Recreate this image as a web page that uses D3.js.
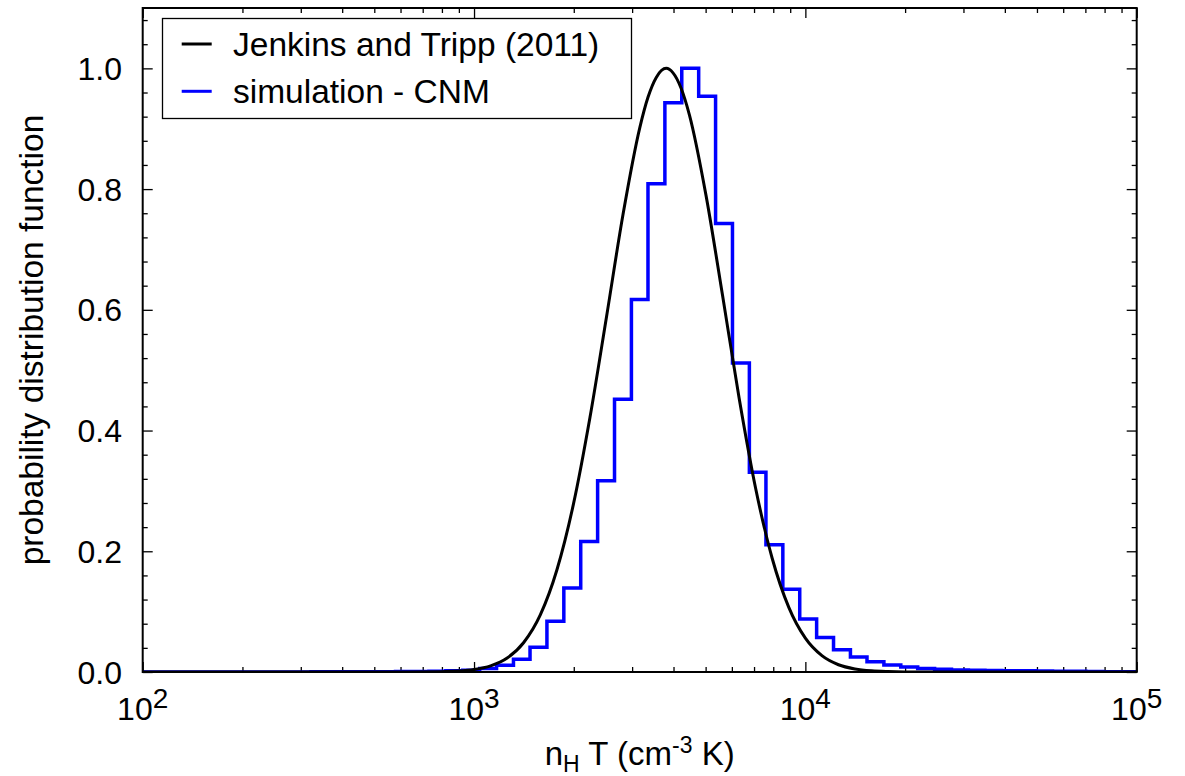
<!DOCTYPE html>
<html>
<head>
<meta charset="utf-8">
<script src="https://cdn.jsdelivr.net/npm/d3@7"></script>
<style>
  html, body { margin: 0; padding: 0; background: #fff; }
  svg { display: block; }
  text { font-family: "Liberation Sans", Arial, Helvetica, sans-serif; fill: #000; }
</style>
</head>
<body>
<svg id="chart" width="1185" height="776"></svg>
<script>
// ---------------- data ----------------
// x tick decades (10^n)
const xTickExponents = [2, 3, 4, 5];
const yTickValues = [0.0, 0.2, 0.4, 0.6, 0.8, 1.0];
const yTickLabels = ["0.0", "0.2", "0.4", "0.6", "0.8", "1.0"];

// Jenkins and Tripp (2011) curve: log10(nH T) and pdf
const jtLogP = [2.0, 2.7, 2.8, 2.9, 2.95, 3.0, 3.05, 3.1, 3.15, 3.2, 3.25, 3.3, 3.35, 3.4, 3.45, 3.5, 3.525, 3.55,
                3.58, 3.6, 3.625, 3.65, 3.7, 3.75, 3.8, 3.85, 3.9, 3.95, 4.0, 4.05, 4.1, 4.15, 4.2, 4.25, 4.3, 4.4, 5.0];
const jtPdf  = [0.0, 0.0, 0.00005, 0.0005, 0.0015, 0.0041, 0.0102, 0.0232, 0.0489, 0.0946, 0.169, 0.278, 0.422, 0.589, 0.759, 0.901, 0.952, 0.985,
                1.0, 0.993, 0.967, 0.923, 0.790, 0.624, 0.454, 0.304, 0.188, 0.107, 0.056, 0.027, 0.012, 0.005, 0.0019, 0.0007, 0.0002, 0.0, 0.0];

// simulation - CNM histogram: bin edges in log10(nH T) and bin heights
const simBinEdgesLog = [2.000, 2.051, 2.102, 2.153, 2.203, 2.254, 2.305, 2.356, 2.407, 2.458,
                        2.508, 2.559, 2.610, 2.661, 2.712, 2.763, 2.814, 2.864, 2.915, 2.966,
                        3.017, 3.068, 3.119, 3.169, 3.220, 3.271, 3.322, 3.373, 3.424, 3.475,
                        3.525, 3.576, 3.627, 3.678, 3.729, 3.780, 3.831, 3.881, 3.932, 3.983,
                        4.034, 4.085, 4.136, 4.186, 4.237, 4.288, 4.339, 4.390, 4.441, 4.492,
                        4.542, 4.593, 4.644, 4.695, 4.746, 4.797, 4.847, 4.898, 4.949, 5.000];
const simPdf = [0.0002, 0.0002, 0.0002, 0.0002, 0.0002, 0.0002, 0.0002, 0.0002, 0.0002, 0.0002,
                0.0004, 0.0004, 0.0004, 0.0004, 0.0006, 0.0008, 0.0010, 0.0014, 0.0020, 0.0030,
                0.006, 0.011, 0.021, 0.041, 0.084, 0.139, 0.216, 0.317, 0.452, 0.617,
                0.809, 0.943, 1.000, 0.954, 0.743, 0.512, 0.331, 0.211, 0.137, 0.088,
                0.057, 0.037, 0.025, 0.017, 0.0116, 0.0082, 0.0060, 0.0045, 0.0035, 0.0030,
                0.0026, 0.0022, 0.0020, 0.0017, 0.0014, 0.0011, 0.0008, 0.0005, 0.0003];

const legendLabels = ["Jenkins and Tripp (2011)", "simulation - CNM"];
const seriesColors = ["#000000", "#0000ff"];

// ---------------- layout ----------------
const svg = d3.select("#chart");
const plot = { left: 142.7, right: 1136.7, top: 8, bottom: 672 };

const x = d3.scaleLog().domain([1e2, 1e5]).range([plot.left, plot.right]);
const y = d3.scaleLinear().domain([0, 1.1]).range([plot.bottom, plot.top]);

svg.append("defs").append("clipPath").attr("id", "clip")
  .append("rect")
  .attr("x", plot.left).attr("y", plot.top)
  .attr("width", plot.right - plot.left).attr("height", plot.bottom - plot.top);

// ---------------- ticks ----------------
const majorX = xTickExponents.map(e => Math.pow(10, e));
const minorX = [];
xTickExponents.slice(0, -1).forEach(e => { for (let m = 2; m <= 9; m++) minorX.push(m * Math.pow(10, e)); });
const majorY = yTickValues;
const minorY = d3.range(0, 1.1001, 0.04).filter(v => !majorY.some(m => Math.abs(m - v) < 1e-6));

function styleAxis(g) {
  g.select(".domain").remove();
  g.selectAll(".tick line").attr("stroke", "#000").attr("stroke-width", 1.3);
  g.selectAll(".tick text").remove();
}

const axes = svg.append("g");
// bottom / top
axes.append("g").attr("transform", `translate(0,${plot.bottom})`)
  .call(d3.axisBottom(x).tickValues(majorX).tickSize(-10).tickFormat("")).call(styleAxis);
axes.append("g").attr("transform", `translate(0,${plot.bottom})`)
  .call(d3.axisBottom(x).tickValues(minorX).tickSize(-5).tickFormat("")).call(styleAxis);
axes.append("g").attr("transform", `translate(0,${plot.top})`)
  .call(d3.axisTop(x).tickValues(majorX).tickSize(-10).tickFormat("")).call(styleAxis);
axes.append("g").attr("transform", `translate(0,${plot.top})`)
  .call(d3.axisTop(x).tickValues(minorX).tickSize(-5).tickFormat("")).call(styleAxis);
// left / right
axes.append("g").attr("transform", `translate(${plot.left},0)`)
  .call(d3.axisLeft(y).tickValues(majorY).tickSize(-10).tickFormat("")).call(styleAxis);
axes.append("g").attr("transform", `translate(${plot.left},0)`)
  .call(d3.axisLeft(y).tickValues(minorY).tickSize(-5).tickFormat("")).call(styleAxis);
axes.append("g").attr("transform", `translate(${plot.right},0)`)
  .call(d3.axisRight(y).tickValues(majorY).tickSize(-10).tickFormat("")).call(styleAxis);
axes.append("g").attr("transform", `translate(${plot.right},0)`)
  .call(d3.axisRight(y).tickValues(minorY).tickSize(-5).tickFormat("")).call(styleAxis);

// ---------------- data marks ----------------
const marks = svg.append("g").attr("clip-path", "url(#clip)");

// histogram as step line
const stepPts = [];
simPdf.forEach((h, i) => {
  stepPts.push([Math.pow(10, simBinEdgesLog[i]), h]);
  stepPts.push([Math.pow(10, simBinEdgesLog[i + 1]), h]);
});
marks.append("path")
  .datum(stepPts)
  .attr("fill", "none")
  .attr("stroke", seriesColors[1])
  .attr("stroke-width", 3.5)
  .attr("stroke-linejoin", "miter")
  .attr("d", d3.line().x(d => x(d[0])).y(d => y(d[1])));

// Jenkins & Tripp curve
const jtPts = jtLogP.map((l, i) => [Math.pow(10, l), jtPdf[i]]);
marks.append("path")
  .datum(jtPts)
  .attr("fill", "none")
  .attr("stroke", seriesColors[0])
  .attr("stroke-width", 3)
  .attr("d", d3.line().x(d => x(d[0])).y(d => y(d[1])).curve(d3.curveMonotoneX));

// frame
svg.append("rect")
  .attr("x", plot.left).attr("y", plot.top)
  .attr("width", plot.right - plot.left).attr("height", plot.bottom - plot.top)
  .attr("fill", "none").attr("stroke", "#000").attr("stroke-width", 2);

// ---------------- tick labels ----------------
const tickFont = 32;
svg.append("g").selectAll("text")
  .data(yTickValues)
  .join("text")
  .attr("x", 122)
  .attr("y", d => y(d) + 11.5)
  .attr("text-anchor", "end")
  .attr("font-size", tickFont)
  .text((d, i) => yTickLabels[i]);

const xl = svg.append("g").selectAll("text")
  .data(xTickExponents)
  .join("text")
  .attr("x", d => x(Math.pow(10, d)))
  .attr("y", 720)
  .attr("text-anchor", "middle")
  .attr("font-size", tickFont);
xl.append("tspan").text("10");
xl.append("tspan").attr("dy", -12).attr("font-size", 28).text(d => d);

// ---------------- axis titles ----------------
const xt = svg.append("text")
  .attr("x", (plot.left + plot.right) / 2)
  .attr("y", 764.5)
  .attr("text-anchor", "middle")
  .attr("font-size", 33);
xt.append("tspan").text("n");
xt.append("tspan").attr("font-size", 23).attr("dy", 7).text("H");
xt.append("tspan").attr("dy", -7).text(" T (cm");
xt.append("tspan").attr("font-size", 23).attr("dy", -12).text("-3");
xt.append("tspan").attr("dy", 12).text(" K)");

svg.append("text")
  .attr("transform", `translate(43,${(plot.top + plot.bottom) / 2}) rotate(-90)`)
  .attr("text-anchor", "middle")
  .attr("font-size", 33.5)
  .text("probability distribution function");

// ---------------- legend ----------------
const lg = svg.append("g");
lg.append("rect")
  .attr("x", 162.5).attr("y", 18.5).attr("width", 469).attr("height", 100)
  .attr("fill", "#fff").attr("stroke", "#000").attr("stroke-width", 1.3);
legendLabels.forEach((lab, i) => {
  const by = 56 + i * 47.3;
  lg.append("line")
    .attr("x1", 181.7).attr("x2", 211.7)
    .attr("y1", by - 12).attr("y2", by - 12)
    .attr("stroke", seriesColors[i]).attr("stroke-width", 3);
  lg.append("text")
    .attr("x", 233).attr("y", by)
    .attr("font-size", 33.5)
    .text(lab);
});
</script>
</body>
</html>
